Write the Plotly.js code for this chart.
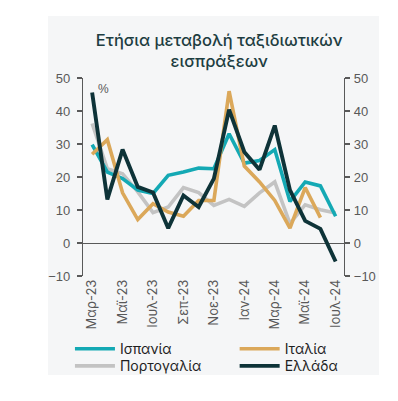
<!DOCTYPE html>
<html>
<head>
<meta charset="utf-8">
<script src="https://cdn.plot.ly/plotly-3.0.1.min.js"></script>
<style>
  html, body { margin: 0; padding: 0; background: #ffffff; }
  #panel { position: absolute; left: 48px; top: 16px; width: 331px; height: 359px; }
</style>
</head>
<body>
<div id="panel"></div>
<script>
const months = ["Μαρ-23","Απρ-23","Μαϊ-23","Ιουν-23","Ιουλ-23","Αυγ-23","Σεπ-23","Οκτ-23","Νοε-23","Δεκ-23","Ιαν-24","Φεβ-24","Μαρ-24","Απρ-24","Μαϊ-24","Ιουν-24","Ιουλ-24"];
const tickLabels = ["Μαρ-23","Μαϊ-23","Ιουλ-23","Σεπ-23","Νοε-23","Ιαν-24","Μαρ-24","Μαϊ-24","Ιουλ-24"];

const spain    = [29.8, 21.5, 19.5, 16.0, 15.0, 20.5, 21.5, 22.7, 22.5, 33.1, 24.2, 25.0, 28.3, 12.6, 18.5, 17.3, 8.1];
const italy    = [26.9, 31.3, 15.2, 7.1, 11.9, 9.4, 8.1, 12.9, 12.9, 46.0, 23.3, 18.5, 12.9, 4.5, 16.8, 7.7, null];
const portugal = [36.2, 22.5, 21.0, 15.5, 9.2, 10.9, 16.8, 15.3, 11.4, 13.2, 11.1, 15.2, 18.5, 5.9, 11.6, 10.1, 9.1];
const greece   = [45.6, 13.2, 28.3, 17.0, 15.3, 4.5, 14.4, 10.9, 19.5, 40.4, 27.6, 22.2, 35.6, 16.0, 6.7, 4.3, -5.6];

const seriesNames = ["Ισπανία", "Ιταλία", "Πορτογαλία", "Ελλάδα"];
const colors = ["#14a9b4", "#dba85a", "#c3c3c3", "#0e3338"];

const legendFont = {family: "Inter, 'Noto Sans', sans-serif", size: 14, color: "#1f1f1f"};

function tr(y, i, legendId, w, yax) {
  return {
    x: months, y: y, type: "scatter", mode: "lines",
    name: seriesNames[i], line: {color: colors[i], width: w},
    legend: legendId, yaxis: yax, connectgaps: false, hoverinfo: "skip"
  };
}

const data = [
  tr(portugal, 2, "legend3", 3.6, "y"),
  tr(spain, 0, "legend", 3.6, "y"),
  tr(italy, 1, "legend2", 3.6, "y"),
  tr(greece, 3, "legend4", 3.9, "y2")
];

const axisGrey = "#595959";
const tickFont = {family: "'Liberation Sans', Arial, sans-serif", size: 13, color: axisGrey};

function leg(x, y) {
  return {
    orientation: "v", x: x, xanchor: "left", y: y, yanchor: "top",
    font: legendFont, bgcolor: "rgba(0,0,0,0)", itemwidth: 40
  };
}
const colL = -0.05, colR = 0.581, row1 = -0.289, row2 = -0.375;

const layout = {
  width: 331, height: 359,
  margin: {l: 35, r: 35, t: 62, b: 99, autoexpand: false},
  paper_bgcolor: "#f5f6f7",
  plot_bgcolor: "#f5f6f7",
  title: {
    text: "Ετήσια μεταβολή ταξιδιωτικών<br>εισπράξεων",
    font: {family: "Inter, 'Noto Sans', sans-serif", size: 16.5, weight: 500, color: "#1d3d41"},
    x: 0.522, xanchor: "center", xref: "paper",
    y: 0.9165, yanchor: "top"
  },
  xaxis: {
    type: "category",
    range: [-0.6, 16.55],
    tickmode: "array", tickvals: tickLabels, ticktext: tickLabels,
    tickangle: -90,
    tickfont: {family: "Inter, 'Noto Sans', sans-serif", size: 13, color: axisGrey},
    showgrid: false, showline: false, zeroline: false, ticks: "",
    fixedrange: true
  },
  yaxis: {
    range: [-10, 50], dtick: 10, tick0: 0,
    showgrid: false, zeroline: true, zerolinecolor: axisGrey, zerolinewidth: 1,
    showline: true, linecolor: axisGrey, linewidth: 1.2,
    ticks: "outside", ticklen: 5, tickcolor: axisGrey, tickwidth: 1.2,
    tickfont: tickFont, ticklabelstandoff: 4,
    fixedrange: true
  },
  yaxis2: {
    range: [-10, 50], dtick: 10, tick0: 0,
    overlaying: "y", side: "right", anchor: "x",
    showgrid: false, zeroline: false,
    showline: true, linecolor: axisGrey, linewidth: 1.2,
    ticks: "outside", ticklen: 5, tickcolor: axisGrey, tickwidth: 1.2,
    tickfont: tickFont, ticklabelstandoff: 1,
    fixedrange: true
  },
  legend: leg(colL, row1),
  legend2: leg(colR, row1),
  legend3: leg(colL, row2),
  legend4: leg(colR, row2),
  annotations: [{
    text: "%", xref: "paper", yref: "paper", x: 0.05, y: 0.99,
    xanchor: "left", yanchor: "top", showarrow: false,
    font: {family: "'Liberation Sans', Arial, sans-serif", size: 12, color: axisGrey}
  }],
  showlegend: true,
  hovermode: false
};

Plotly.newPlot("panel", data, layout, {staticPlot: true, displayModeBar: false});
</script>
</body>
</html>
